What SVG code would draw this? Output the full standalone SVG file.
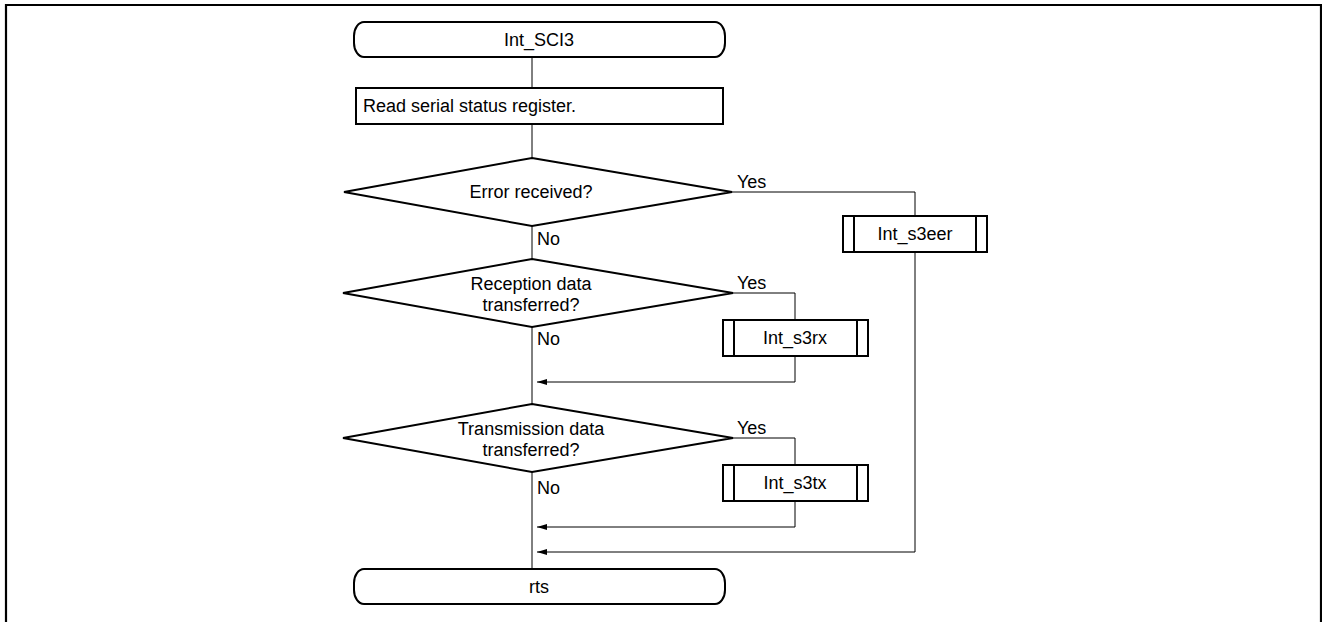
<svg xmlns="http://www.w3.org/2000/svg" width="1322" height="622" viewBox="0 0 1322 622">
  <defs>
    <marker id="arrow" viewBox="0 0 10 6" refX="10" refY="3" markerWidth="10" markerHeight="6" markerUnits="userSpaceOnUse" orient="auto">
      <path d="M0,0 L10,3 L0,6 Z" fill="#000"/>
    </marker>
    <style>
      .shape { fill: #fff; stroke: #000; stroke-width: 2; }
      .bar { fill: none; stroke: #000; stroke-width: 2; }
      .wire { fill: none; stroke: #000; stroke-width: 1; }
      text { font-family: "Liberation Sans", Arial, sans-serif; font-size: 18px; fill: #000; }
      .c { text-anchor: middle; }
    </style>
  </defs>
  <rect width="1322" height="622" fill="#fff"/>
  <!-- outer frame, open at the bottom -->
  <path d="M6,630 L6,5 L1321,5 L1321,630" fill="none" stroke="#000" stroke-width="2.2"/>

  <!-- connectors -->
  <g id="connectors">
    <path class="wire" d="M532,57 V88"/>
    <path class="wire" d="M532,124 V158"/>
    <path class="wire" d="M532,226 V259"/>
    <path class="wire" d="M532,327 V404"/>
    <path class="wire" d="M532,472 V569"/>
    <!-- Error received? Yes branch -->
    <path class="wire" d="M732,192 H915 V216"/>
    <path class="wire" d="M915,252 V552 H537" marker-end="url(#arrow)"/>
    <!-- Reception Yes branch -->
    <path class="wire" d="M733,293 H795 V320"/>
    <path class="wire" d="M795,356 V382 H537" marker-end="url(#arrow)"/>
    <!-- Transmission Yes branch -->
    <path class="wire" d="M733,438 H795 V465"/>
    <path class="wire" d="M795,501 V527 H537" marker-end="url(#arrow)"/>
    <text x="737" y="188">Yes</text>
    <text x="737" y="289">Yes</text>
    <text x="737" y="434">Yes</text>
    <text x="537" y="245">No</text>
    <text x="537" y="345">No</text>
    <text x="537" y="494">No</text>
  </g>

  <g id="start">
    <rect class="shape" x="354" y="22" width="371" height="35" rx="10" ry="14"/>
    <text class="c" x="539" y="46">Int_SCI3</text>
  </g>

  <g id="read-status">
    <rect class="shape" x="356" y="88" width="367" height="36"/>
    <text x="363" y="112">Read serial status register.</text>
  </g>

  <g id="error-check">
    <polygon class="shape" points="532,158 732,192 532,226 344,192"/>
    <text class="c" x="531" y="198">Error received?</text>
  </g>

  <g id="int-s3eer">
    <rect class="shape" x="843" y="216" width="144" height="36"/>
    <path class="bar" d="M854,216 V252 M976,216 V252"/>
    <text class="c" x="915" y="240">Int_s3eer</text>
  </g>

  <g id="rx-check">
    <polygon class="shape" points="532,259 733,293 532,327 343,293"/>
    <text class="c" x="531" y="290">Reception data</text>
    <text class="c" x="531" y="311">transferred?</text>
  </g>

  <g id="int-s3rx">
    <rect class="shape" x="723" y="320" width="145" height="36"/>
    <path class="bar" d="M734,320 V356 M857,320 V356"/>
    <text class="c" x="795" y="344">Int_s3rx</text>
  </g>

  <g id="tx-check">
    <polygon class="shape" points="532,404 733,438 532,472 343,438"/>
    <text class="c" x="531" y="435">Transmission data</text>
    <text class="c" x="531" y="456">transferred?</text>
  </g>

  <g id="int-s3tx">
    <rect class="shape" x="723" y="465" width="145" height="36"/>
    <path class="bar" d="M734,465 V501 M857,465 V501"/>
    <text class="c" x="795" y="489">Int_s3tx</text>
  </g>

  <g id="end">
    <rect class="shape" x="354" y="569" width="371" height="35" rx="10" ry="14"/>
    <text class="c" x="539" y="593">rts</text>
  </g>
</svg>
